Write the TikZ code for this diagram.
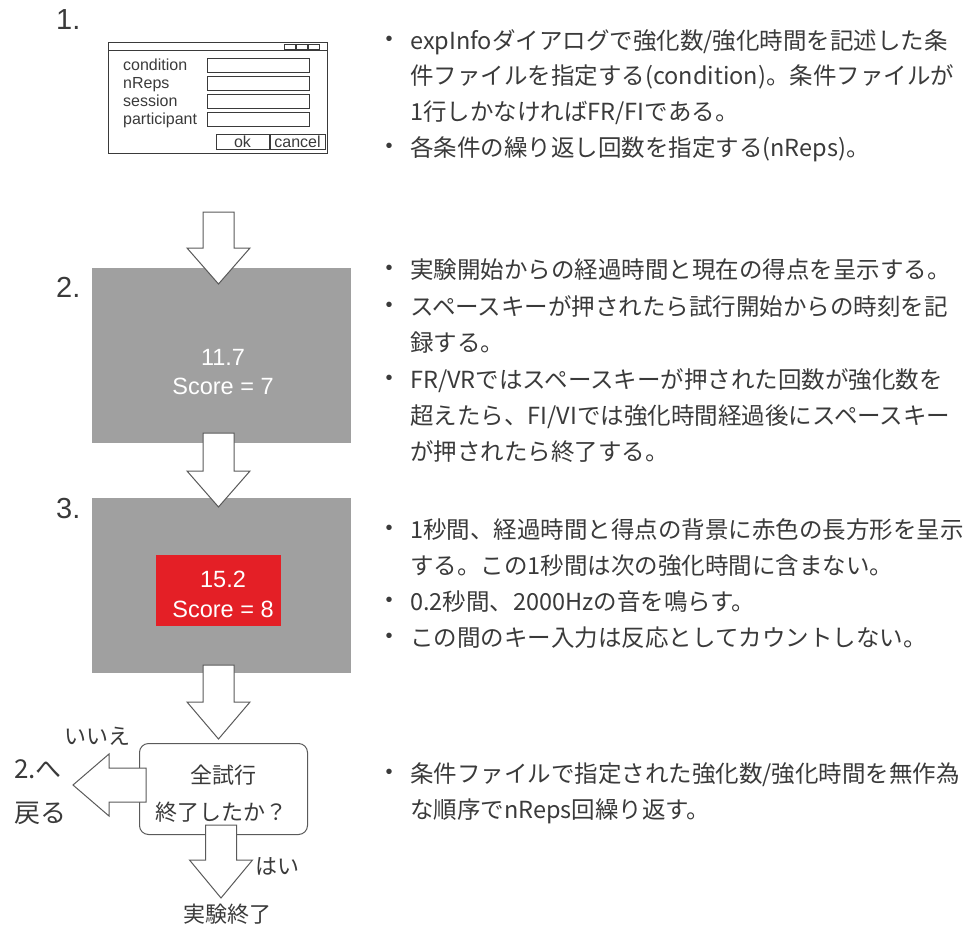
\documentclass[tikz,border=0pt]{standalone}
\usepackage{fontspec}
\setmainfont{Liberation Sans}
\newfontfamily\jp{Noto Sans CJK JP}
\usepackage{tikz}
\usetikzlibrary{positioning}

\definecolor{boxgray}{HTML}{A0A0A0}
\definecolor{alarmred}{HTML}{E41F26}
\definecolor{ink}{HTML}{3A3A3A}
\definecolor{edge}{HTML}{5A5A5A}

\tikzset{
  blockarrow/.style={draw=edge, fill=white, line width=1pt, line join=miter},
  numlabel/.style={font=\fontsize{29}{29}\selectfont, text=ink, anchor=base west, inner sep=0},
  dlglabel/.style={font=\fontsize{16}{16}\selectfont, text=ink, anchor=base west, inner sep=0},
  dlgbox/.style={draw=ink, line width=0.9pt},
  screen/.style={fill=boxgray, minimum width=259pt, minimum height=175pt, inner sep=0, anchor=north west},
  scoretxt/.style={font=\fontsize{23.5}{23.5}\selectfont, text=white, inner sep=0, anchor=base},
  jptxt/.style={font=\jp\fontsize{23.5}{23.5}\selectfont, text=ink, inner sep=0, anchor=base west},
  jpmid/.style={font=\jp\fontsize{22}{22}\selectfont, text=ink, inner sep=0, anchor=base},
  dot/.style={font=\fontsize{20}{20}\selectfont, text=ink, inner sep=0},
}

% x, top of shaft, wing line, tip
\newcommand{\blockdown}[4]{%
  \draw[blockarrow] (#1-15.5,#2) -- (#1+15.5,#2) -- (#1+15.5,#3) -- (#1+31.5,#3)
    -- (#1,#4) -- (#1-31.5,#3) -- (#1-15.5,#3) -- cycle;}

\begin{document}
\begin{tikzpicture}[x=1pt, y=-1pt]
    \useasboundingbox (0,0) rectangle (971,928);

    % 1. dialog
    \node[numlabel] (n1) at (56,30) {1.};
    \draw[dlgbox] (108,42) rectangle (327,153);
    \draw[dlgbox] (108,50) -- (327,50);
    \foreach \x in {284,296,308}
        \draw[dlgbox, line width=0.6pt] (\x,44) rectangle ++(11,5);
    \foreach \lab [count=\i] in {condition,nReps,session,participant} {
        \node[dlglabel] (lab\i) at (123,70.5+17.9*\i-17.9) {\lab};
        \draw[dlgbox] (207,58+18*\i-18) rectangle ++(102,14);
    }
    \node[dlgbox, minimum width=53pt, minimum height=15pt, inner sep=0,
          font=\fontsize{16}{16}\selectfont, text=ink] (okbtn) at (242.5,141.5) {ok};
    \node[dlgbox, minimum width=55pt, minimum height=15pt, inner sep=0,
          font=\fontsize{16}{16}\selectfont, text=ink] (cancelbtn) at (297.5,141.5) {cancel};

    % 2. trial screen
    \node[numlabel] (n2) at (56,297) {2.};
    \node[screen] (trial) at (92,268) {};
    \node[scoretxt] (time2) at (223,365) {11.7};
    \node[scoretxt] (score2) at (223,394) {Score = 7};

    % 3. reinforcement screen
    \node[numlabel] (n3) at (56,518) {3.};
    \node[screen] (reinf) at (92,498) {};
    \node[fill=alarmred, minimum width=125pt, minimum height=71pt, inner sep=0,
          anchor=north west] (redbox) at (156,555) {};
    \node[scoretxt] (time3) at (223,587) {15.2};
    \node[scoretxt] (score3) at (223,617) {Score = 8};

    % 4. decision
    \node[draw=edge, fill=white, line width=1pt, rounded corners=9pt,
          minimum width=168pt, minimum height=91pt, anchor=north west] (done) at (139,743) {};
    \node[jpmid] (q1) at (223,783) {全試行};
    \node[jpmid] (q2) at (221,820) {終了したか？};

    % arrows
    \blockdown{218.5}{212}{248}{284}
    \blockdown{218.5}{433}{471}{507}
    \blockdown{218.5}{665}{702}{739}
    \blockdown{221}{825}{860}{898}
    \draw[blockarrow] (146,768) -- (146,802) -- (109,802) -- (109,816)
        -- (73,785) -- (109,754) -- (109,768) -- cycle;

    \node[jpmid] (no) at (97,744) {いいえ};
    \node[jpmid] (yes) at (277,874) {はい};
    \node[jpmid] (fin) at (227,922) {実験終了};
    \node[jptxt, font=\jp\fontsize{26}{26}\selectfont] (back1) at (14,778) {2.へ};
    \node[jptxt, font=\jp\fontsize{26}{26}\selectfont] (back2) at (14,822) {戻る};

    % explanations
    \foreach \y/\t [count=\i] in {
        41/{expInfoダイアログで強化数/強化時間を記述した条},
        76/{件ファイルを指定する(condition)。条件ファイルが},
        112/{1行しかなければFR/FIである。},
        148/{各条件の繰り返し回数を指定する(nReps)。},
        270/{実験開始からの経過時間と現在の得点を呈示する。},
        307/{スペースキーが押されたら試行開始からの時刻を記},
        343/{録する。},
        380/{FR/VRではスペースキーが押された回数が強化数を},
        416/{超えたら、FI/VIでは強化時間経過後にスペースキー},
        452/{が押されたら終了する。},
        530/{1秒間、経過時間と得点の背景に赤色の長方形を呈示},
        566/{する。この1秒間は次の強化時間に含まない。},
        602/{0.2秒間、2000Hzの音を鳴らす。},
        638/{この間のキー入力は反応としてカウントしない。},
        774/{条件ファイルで指定された強化数/強化時間を無作為},
        810/{な順序でnReps回繰り返す。}}
        \node[jptxt] (line\i) at (410,\y+8.9) {\t};
    \foreach \y [count=\i] in {41,148,270,307,380,530,602,638,774}
        \node[dot] (bul\i) at (389,\y) {•};
\end{tikzpicture}
\end{document}
